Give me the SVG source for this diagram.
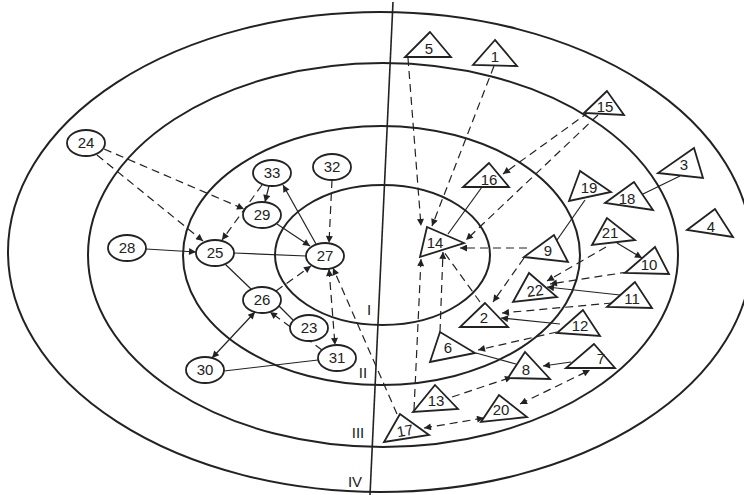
<svg xmlns="http://www.w3.org/2000/svg" width="744" height="495" viewBox="0 0 744 495">
<defs>
<style>
.ring{fill:none;stroke:#222;stroke-width:2}
.node ellipse,.node polygon{fill:#fff;stroke:#222;stroke-width:1.8}
.node text{font-family:"Liberation Sans",Arial,sans-serif;font-size:15px;fill:#222;text-anchor:middle}
.lbl{font-family:"Liberation Sans",Arial,sans-serif;font-size:15px;fill:#222;text-anchor:middle}
.s{fill:none;stroke:#222;stroke-width:1.2}
.d{fill:none;stroke:#222;stroke-width:1.2;stroke-dasharray:8 5}
.a{marker-end:url(#ah)}
.b{marker-start:url(#as);marker-end:url(#ah)}
</style>
<marker id="ah" viewBox="0 0 10 10" refX="10" refY="5" markerWidth="9" markerHeight="7" markerUnits="userSpaceOnUse" orient="auto"><path d="M0,0 L10,5 L0,10 z" fill="#222"/></marker>
<marker id="as" viewBox="0 0 10 10" refX="0" refY="5" markerWidth="9" markerHeight="7" markerUnits="userSpaceOnUse" orient="auto"><path d="M10,0 L0,5 L10,10 z" fill="#222"/></marker>
</defs>
<rect width="744" height="495" fill="#fff"/>
<g id="rings">
<ellipse class="ring" cx="380" cy="252" rx="372" ry="240"/>
<ellipse class="ring" cx="383" cy="255" rx="295" ry="192"/>
<ellipse class="ring" cx="381.5" cy="255.5" rx="198.5" ry="129.5"/>
<ellipse class="ring" cx="382.5" cy="255" rx="107.5" ry="70"/>
<line class="ring" x1="393" y1="2" x2="370" y2="495" style="stroke-width:1.6"/>
<text class="lbl" x="369" y="315">I</text>
<text class="lbl" x="363" y="378">II</text>
<text class="lbl" x="358" y="438">III</text>
<text class="lbl" x="355" y="487">IV</text>
</g>
<g id="connectors">
<path class="d a" d="M97,155 L203,241"/>
<path class="d a" d="M104,149 L244,209"/>
<path class="s a" d="M269,186 L265,202"/>
<path class="d a" d="M262,185 L222,240"/>
<path class="s a" d="M316,244 L283,185"/>
<path class="s a" d="M277,224 L310,246"/>
<path class="d a" d="M332,180 L329,243"/>
<path class="s a" d="M146,249 L196,252"/>
<path class="s" d="M234,253 L306,256"/>
<path class="s" d="M225,264 L251,289"/>
<path class="d a" d="M276,291 L311,266"/>
<path class="s" d="M279,306 L293,320"/>
<path class="s b" d="M255,312 L212,358"/>
<path class="d a" d="M322,350 L270,312"/>
<path class="s" d="M224,371 L318,360"/>
<path class="d b" d="M329,269 L335,345"/>
<path class="d a" d="M397,414 L333,268"/>
<path class="d a" d="M408,58 L421,226"/>
<path class="d a" d="M494,66 L432,226"/>
<path class="d a" d="M589,112 L503,174"/>
<path class="d a" d="M598,115 L466,240"/>
<path class="s" d="M482,187 L448,234"/>
<path class="d a" d="M527,248 L460,248"/>
<path class="s" d="M585,200 L557,240"/>
<path class="s" d="M680,176 L643,194"/>
<path class="s a" d="M617,243 L642,258"/>
<path class="d a" d="M606,247 L547,281"/>
<path class="d a" d="M628,272 L550,284"/>
<path class="s a" d="M620,295 L547,287"/>
<path class="d a" d="M612,303 L502,313"/>
<path class="s a" d="M560,324 L501,318"/>
<path class="d a" d="M524,258 L493,302"/>
<path class="d" d="M480,302 L444,252"/>
<path class="d a" d="M414,410 L421,259"/>
<path class="d a" d="M440,332 L443,252"/>
<path class="s" d="M476,353 L516,364"/>
<path class="d a" d="M557,332 L478,350"/>
<path class="s a" d="M571,362 L543,366"/>
<path class="d a" d="M452,397 L512,377"/>
<path class="d b" d="M520,404 L590,370"/>
<path class="d b" d="M424,428 L484,418"/>
</g>
<g id="n24" class="node"><ellipse cx="86" cy="143" rx="19" ry="13"/><text x="86" y="148">24</text></g>
<g id="n33" class="node"><ellipse cx="272" cy="173" rx="19" ry="13"/><text x="272" y="178">33</text></g>
<g id="n32" class="node"><ellipse cx="332" cy="167" rx="19" ry="13"/><text x="332" y="172">32</text></g>
<g id="n29" class="node"><ellipse cx="262" cy="215" rx="19" ry="13"/><text x="262" y="220">29</text></g>
<g id="n28" class="node"><ellipse cx="127" cy="248" rx="19" ry="13"/><text x="127" y="253">28</text></g>
<g id="n25" class="node"><ellipse cx="215" cy="253" rx="19" ry="13"/><text x="215" y="258">25</text></g>
<g id="n27" class="node"><ellipse cx="325" cy="256" rx="19" ry="13"/><text x="325" y="261">27</text></g>
<g id="n26" class="node"><ellipse cx="262" cy="300" rx="19" ry="13"/><text x="262" y="305">26</text></g>
<g id="n23" class="node"><ellipse cx="309" cy="328" rx="19" ry="13"/><text x="309" y="333">23</text></g>
<g id="n31" class="node"><ellipse cx="337" cy="358" rx="19" ry="13"/><text x="337" y="363">31</text></g>
<g id="n30" class="node"><ellipse cx="205" cy="370" rx="19" ry="13"/><text x="205" y="375">30</text></g>
<g id="n5" class="node"><polygon points="430,32 405,57 451,57"/><text x="429" y="54">5</text></g>
<g id="n1" class="node"><polygon points="495,40 473,65 517,66"/><text x="495" y="62">1</text></g>
<g id="n15" class="node"><polygon points="607,91 584,113 624,115"/><text x="605" y="112">15</text></g>
<g id="n16" class="node"><polygon points="489,163 463,187 509,187"/><text x="489" y="185">16</text></g>
<g id="n3" class="node"><polygon points="694,148 658,173 703,178"/><text x="684" y="170">3</text></g>
<g id="n19" class="node"><polygon points="580,171 569,201 611,192"/><text x="589" y="193">19</text></g>
<g id="n18" class="node"><polygon points="634,182 605,203 653,210"/><text x="627" y="204">18</text></g>
<g id="n4" class="node"><polygon points="715,209 687,230 733,237"/><text x="711" y="232">4</text></g>
<g id="n14" class="node"><polygon points="427,227 420,257 464,243"/><text x="435" y="248">14</text></g>
<g id="n9" class="node"><polygon points="554,235 524,257 568,262"/><text x="548" y="256">9</text></g>
<g id="n21" class="node"><polygon points="607,218 592,245 635,240"/><text x="610" y="238">21</text></g>
<g id="n10" class="node"><polygon points="655,247 625,273 669,274"/><text x="649" y="270">10</text></g>
<g id="n22" class="node"><polygon points="529,273 513,302 557,297"/><text x="535" y="296" transform="rotate(-8 535 291)">22</text></g>
<g id="n11" class="node"><polygon points="635,282 607,307 652,308"/><text x="632" y="304">11</text></g>
<g id="n2" class="node"><polygon points="485,303 460,327 508,327"/><text x="484" y="323">2</text></g>
<g id="n12" class="node"><polygon points="583,310 557,333 600,336"/><text x="580" y="331">12</text></g>
<g id="n6" class="node"><polygon points="440,332 430,362 475,353"/><text x="448" y="353">6</text></g>
<g id="n8" class="node"><polygon points="525,352 508,378 550,379"/><text x="526" y="375">8</text></g>
<g id="n7" class="node"><polygon points="594,344 566,368 615,368"/><text x="601" y="364">7</text></g>
<g id="n13" class="node"><polygon points="435,385 413,412 458,409"/><text x="436" y="406">13</text></g>
<g id="n20" class="node"><polygon points="499,395 481,422 527,417"/><text x="501" y="415">20</text></g>
<g id="n17" class="node"><polygon points="400,414 384,442 429,435"/><text x="405" y="436" transform="rotate(-10 405 431)">17</text></g>
</svg>
